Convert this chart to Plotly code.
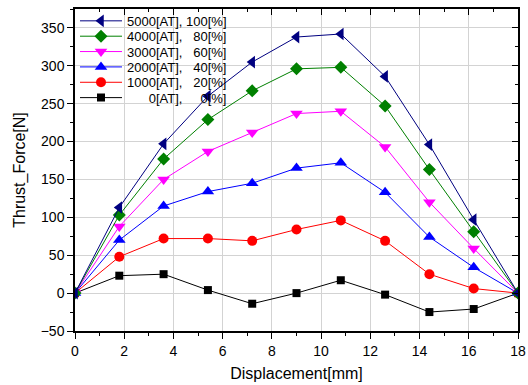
import plotly.graph_objects as go

displacement = [0, 1.8, 3.6, 5.4, 7.2, 9.0, 10.8, 12.6, 14.4, 16.2, 18.0]

force_0 = [0, 23, 25, 4, -14, 0, 17, -2, -25, -21, 0]
force_1000 = [0, 48, 72, 72, 69, 84, 96, 69, 25, 6, 0]
force_2000 = [0, 70, 115, 134, 145, 165, 172, 133, 74, 34, 0]
force_3000 = [0, 88, 150, 187, 212, 237, 240, 193, 120, 59, 0]
force_4000 = [0, 103, 177, 229, 267, 296, 298, 247, 163, 81, 0]
force_5000 = [0, 113, 197, 260, 305, 338, 342, 286, 196, 97, 0]

NB = "\u00a0"
labels = [
    NB * 6 + "0[AT]," + NB * 5 + "0[%]",
    "1000[AT]," + NB * 3 + "20[%]",
    "2000[AT]," + NB * 3 + "40[%]",
    "3000[AT]," + NB * 3 + "60[%]",
    "4000[AT]," + NB * 3 + "80[%]",
    "5000[AT]," + NB + "100[%]",
]
series = [force_0, force_1000, force_2000, force_3000, force_4000, force_5000]
colors = ["#000000", "#ff0000", "#0000ff", "#ff00ff", "#008000", "#000080"]
symbols = ["square", "circle", "triangle-up", "triangle-down", "diamond", "triangle-left"]
sizes = [8, 10, 11, 11, 10, 11]

font = "Arial, Liberation Sans, sans-serif"
W, H = 528, 385
ML, MR, MT, MB = 75, 10, 6, 54
plot_h = H - MT - MB

fig = go.Figure()
legend_layout = {}
for i, (lab, ys, c, s, sz) in enumerate(zip(labels, series, colors, symbols, sizes)):
    row = len(labels) - 1 - i  # 5000 on top
    key = "legend" if row == 0 else f"legend{row + 1}"
    fig.add_trace(go.Scatter(
        x=displacement, y=ys, name=lab, mode="lines+markers",
        line=dict(color=c, width=1),
        marker=dict(symbol=s, size=sz, color=c, line=dict(width=0)),
        legend=key,
    ))
    ypix = 18 + row * 15.5  # centre of legend row from top of figure
    legend_layout[key] = dict(
        x=0.0, y=(H - MB - ypix) / plot_h, xanchor="left", yanchor="middle",
        bgcolor="rgba(255,255,255,0)", borderwidth=0,
        font=dict(size=13, family=font), itemwidth=42,
    )

# invisible trace to activate mirror axes
fig.add_trace(go.Scatter(x=[0], y=[0], xaxis="x2", yaxis="y2", mode="markers",
                         marker=dict(opacity=0), showlegend=False, hoverinfo="skip"))

common = dict(showline=True, linecolor="black", linewidth=1.5, ticklen=6, tickwidth=1.2,
              tickcolor="black", automargin=False)
fig.update_layout(
    width=W, height=H,
    margin=dict(l=ML, r=MR, t=MT, b=MB),
    plot_bgcolor="white", paper_bgcolor="white",
    font=dict(family=font, size=14, color="black"),
    showlegend=True,
    xaxis=dict(range=[0, 18], dtick=2, tick0=0, ticks="outside",
               showgrid=True, gridcolor="#d3d3d3", gridwidth=1, zeroline=False,
               title=dict(text="Displacement[mm]", font=dict(size=16), standoff=10),
               minor=dict(dtick=1, ticks="outside", ticklen=3, tickcolor="black", showgrid=False),
               **common),
    yaxis=dict(range=[-50, 375], dtick=50, tick0=0, ticks="outside",
               showgrid=True, gridcolor="#d3d3d3", gridwidth=1, zeroline=False,
               title=dict(text="Thrust_Force[N]", font=dict(size=16), standoff=11),
               minor=dict(dtick=25, ticks="outside", ticklen=3, tickcolor="black", showgrid=False),
               **common),
    xaxis2=dict(range=[0, 18], dtick=2, tick0=0, overlaying="x", side="top", ticks="inside",
                showticklabels=False, showgrid=False, zeroline=False,
                minor=dict(dtick=1, ticks="inside", ticklen=3, tickcolor="black"),
                **common),
    yaxis2=dict(range=[-50, 375], dtick=50, tick0=0, overlaying="y", side="right", ticks="inside",
                showticklabels=False, showgrid=False, zeroline=False,
                minor=dict(dtick=25, ticks="inside", ticklen=3, tickcolor="black"),
                **common),
    **legend_layout,
)

fig.write_html("out.html", config={"displayModeBar": False},
               post_script="document.body.style.margin='0';")
